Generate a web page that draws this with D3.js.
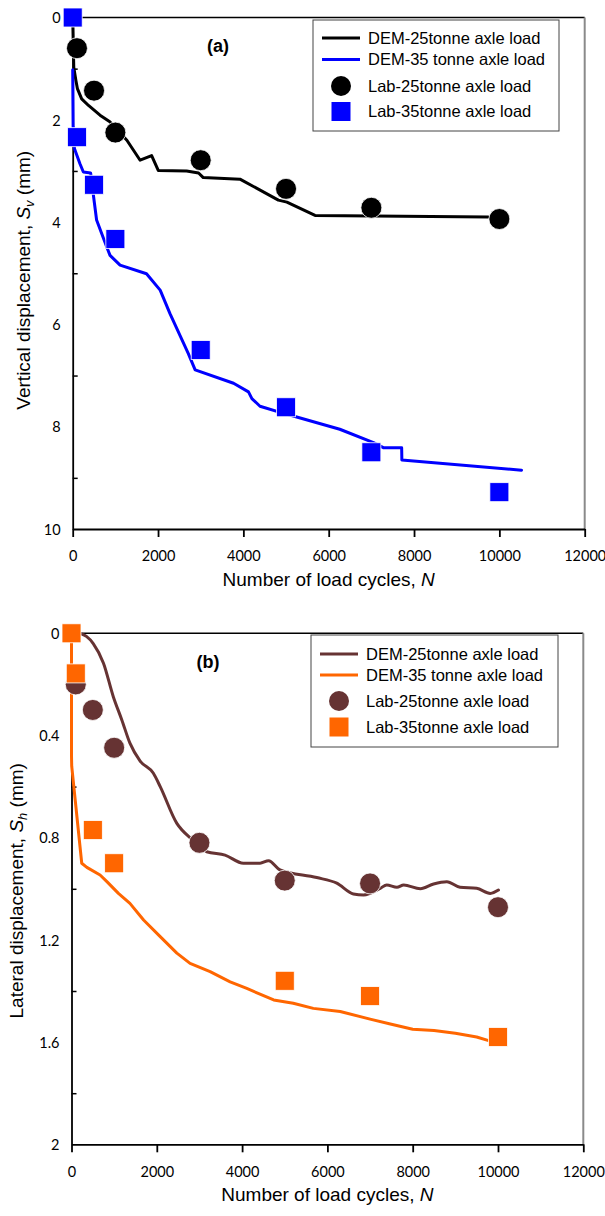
<!DOCTYPE html>
<html>
<head>
<meta charset="utf-8">
<script src="https://cdn.jsdelivr.net/npm/d3@7"></script>
<style>
  html, body { margin: 0; padding: 0; background: #fff; }
  svg { display: block; }
  .tick text { font-family: Lato, "Open Sans", sans-serif; font-size: 14.5px; fill: #000; }
  .title { font-family: "Liberation Sans", Arial, sans-serif; font-size: 19px; fill: #000; }
  .legend text { font-family: "Liberation Sans", Arial, sans-serif; font-size: 16.5px; fill: #000; }
</style>
</head>
<body>
<svg id="chart" width="605" height="1216"></svg>
<script>
// Axis ticks
const cycleTicks = [0, 2000, 4000, 6000, 8000, 10000, 12000];
const vertTicks = [0, 2, 4, 6, 8, 10];
const vertMinor = [1, 3, 5, 7, 9];
const latTicks = [0, 0.4, 0.8, 1.2, 1.6, 2];
const latMinor = [0.2, 0.6, 1.0, 1.4, 1.8];

// (a) Vertical displacement — laboratory results
const labVertCycles25 = [100, 500, 1000, 3000, 5000, 7000, 10000];
const labVert25 = [0.6, 1.43, 2.25, 2.79, 3.35, 3.72, 3.94];
const labVertCycles35 = [0, 100, 500, 1000, 3000, 5000, 7000, 10000];
const labVert35 = [0, 2.34, 3.27, 4.33, 6.5, 7.62, 8.5, 9.28];

// (a) Vertical displacement — DEM results
const demVertCycles25 = [0, 25, 75, 110, 210, 370, 640, 870, 1270, 1580, 1850, 2005, 2670, 2950, 3060, 3920, 4820, 5020, 5680, 7050, 9740];
const demVert25 = [0, 0.97, 1.23, 1.39, 1.59, 1.72, 1.91, 2.04, 2.40, 2.79, 2.70, 2.99, 3.00, 3.04, 3.13, 3.16, 3.57, 3.61, 3.87, 3.88, 3.90];
const demVertCycles35 = [0, 10, 40, 170, 250, 420, 480, 560, 800, 875, 1110, 1730, 2050, 2280, 2710, 2870, 3770, 4120, 4200, 4390, 4940, 5250, 6260, 7050, 7280, 7710, 7715, 10520];
const demVert35 = [1.02, 2.14, 2.56, 2.86, 3.02, 3.04, 3.44, 3.96, 4.49, 4.65, 4.84, 5.01, 5.33, 5.79, 6.57, 6.89, 7.15, 7.32, 7.45, 7.60, 7.74, 7.81, 8.05, 8.31, 8.41, 8.41, 8.65, 8.85];

// (b) Lateral displacement — laboratory results
const labLatCycles25 = [100, 500, 1000, 3000, 5000, 7000, 10000];
const labLat25 = [0.2, 0.30, 0.448, 0.82, 0.968, 0.979, 1.072];
const labLatCycles35 = [0, 100, 500, 1000, 5000, 7000, 10000];
const labLat35 = [0, 0.157, 0.77, 0.90, 1.36, 1.42, 1.58];

// (b) Lateral displacement — DEM results
const demLatCycles25 = [200, 350, 510, 750, 980, 1180, 1370, 1610, 1920, 2080, 2470, 2780, 3020, 3170, 3600, 4030, 4420, 4620, 4890, 5750, 6220, 6610, 6850, 7240, 7390, 7630, 7790, 8180, 8490, 8800, 9110, 9500, 9820, 10010];
const demLat25 = [0, 0.012, 0.04, 0.117, 0.248, 0.339, 0.43, 0.50, 0.548, 0.60, 0.744, 0.80, 0.83, 0.855, 0.868, 0.90, 0.90, 0.89, 0.926, 0.956, 0.978, 1.02, 1.024, 0.998, 0.985, 0.994, 0.985, 1.0, 0.981, 0.972, 0.994, 0.998, 1.018, 1.005];
const demLatCycles35 = [0, 0, 5, 240, 360, 670, 830, 1100, 1370, 1690, 2080, 2470, 2780, 3250, 3720, 4110, 4740, 5200, 5670, 6300, 7000, 7500, 8000, 8500, 9000, 9500, 9800, 10000];
const demLat35 = [0.02, 0.48, 0.52, 0.90, 0.916, 0.946, 0.972, 1.018, 1.057, 1.122, 1.187, 1.252, 1.292, 1.324, 1.364, 1.39, 1.435, 1.448, 1.468, 1.48, 1.51, 1.53, 1.55, 1.555, 1.565, 1.58, 1.595, 1.60];

const legendLabels = ["DEM-25tonne axle load", "DEM-35 tonne axle load", "Lab-25tonne axle load", "Lab-35tonne axle load"];

const zip = (xs, ys) => xs.map((x, i) => [x, ys[i]]);

const svg = d3.select("#chart");

const panels = [
  {
    tag: "(a)", tagX: 218,
    left: 72.7, right: 584.7, top: 17.5, bottom: 529,
    yMax: 10, yTicks: vertTicks, yMinor: vertMinor, yFmt: d3.format("d"),
    yTitle: ["Vertical displacement, ", "S", "v", " (mm)"], yTitleX: 23, yTitleShift: 7,
    colors: ["#000000", "#0000ff", "#000000", "#0000ff"],
    lines: [zip(demVertCycles25, demVert25), zip(demVertCycles35, demVert35)],
    curves: [d3.curveLinear, d3.curveLinear],
    circles: zip(labVertCycles25, labVert25),
    squares: zip(labVertCycles35, labVert35),
    legend: { x: 313, y: 20, w: 246, h: 111, rows: [38, 59.5, 86, 111.5] }
  },
  {
    tag: "(b)", tagX: 208,
    left: 71.5, right: 583.3, top: 633.3, bottom: 1144.3,
    yMax: 2, yTicks: latTicks, yMinor: latMinor, yFmt: d => d === 0 || d === 2 ? String(d) : d3.format(".1f")(d),
    yTitle: ["Lateral displacement, ", "S", "h", " (mm)"], yTitleX: 16, yTitleShift: 2,
    colors: ["#663333", "#ff6600", "#663333", "#ff6600"],
    lines: [zip(demLatCycles25, demLat25), zip(demLatCycles35, demLat35)],
    curves: [d3.curveMonotoneX, d3.curveLinear],
    circles: zip(labLatCycles25, labLat25),
    squares: zip(labLatCycles35, labLat35),
    legend: { x: 311, y: 635, w: 247, h: 112, rows: [654, 675, 701, 727] }
  }
];

panels.forEach(p => {
  const x = d3.scaleLinear().domain([0, 12000]).range([p.left, p.right]);
  const y = d3.scaleLinear().domain([0, p.yMax]).range([p.top, p.bottom]);
  const g = svg.append("g");

  // frame: black top edge, grey right edge
  g.append("line").attr("x1", p.left).attr("x2", p.right).attr("y1", p.top).attr("y2", p.top)
    .attr("stroke", "#000").attr("stroke-width", 1.6);
  g.append("line").attr("x1", p.right).attr("x2", p.right).attr("y1", p.top).attr("y2", p.bottom)
    .attr("stroke", "#8a8a8a").attr("stroke-width", 2);

  // x axis
  const xAxis = g.append("g").attr("transform", `translate(0,${p.bottom})`)
    .call(d3.axisBottom(x).tickValues(cycleTicks).tickFormat(d3.format("d"))
      .tickSize(8).tickSizeOuter(0).tickPadding(14));
  xAxis.selectAll("path, line").attr("stroke", "#000").attr("stroke-width", 1.8);

  // y axis: labels only on major values, inward minor ticks
  const yAxis = g.append("g").attr("transform", `translate(${p.left},0)`)
    .call(d3.axisLeft(y).tickValues(p.yTicks).tickFormat(p.yFmt)
      .tickSize(0).tickSizeOuter(0).tickPadding(12));
  yAxis.select(".domain").attr("stroke", "#000").attr("stroke-width", 1.8);
  yAxis.selectAll(".tick text").attr("dy", "0.36em");
  const yMinorAxis = g.append("g").attr("transform", `translate(${p.left},0)`)
    .call(d3.axisRight(y).tickValues(p.yMinor).tickFormat("").tickSize(5).tickSizeOuter(0));
  yMinorAxis.select(".domain").remove();
  yMinorAxis.selectAll("line").attr("stroke", "#000").attr("stroke-width", 1.5);

  // axis titles
  g.append("text").attr("class", "title")
    .attr("x", (p.left + p.right) / 2).attr("y", p.bottom + 50).attr("dy", "0.35em")
    .attr("text-anchor", "middle")
    .call(t => {
      t.append("tspan").text("Number of load cycles, ");
      t.append("tspan").attr("font-style", "italic").text("N");
    });

  g.append("text").attr("class", "title")
    .attr("transform", `translate(${p.yTitleX},${(p.top + p.bottom) / 2 + p.yTitleShift}) rotate(-90)`)
    .attr("text-anchor", "middle").attr("dy", "0.35em")
    .call(t => {
      t.append("tspan").text(p.yTitle[0]);
      t.append("tspan").attr("font-style", "italic").text(p.yTitle[1]);
      t.append("tspan").attr("font-style", "italic").attr("font-size", "0.68em").attr("dy", "0.3em").text(p.yTitle[2]);
      t.append("tspan").attr("dy", "-0.2em").text(p.yTitle[3]);
    });

  // panel tag
  g.append("text").attr("x", p.tagX).attr("y", p.top + 28).attr("dy", "0.35em")
    .attr("text-anchor", "middle")
    .attr("font-family", "'Liberation Sans', Arial, sans-serif").attr("font-weight", "bold").attr("font-size", 18)
    .text(p.tag);

  // DEM curves
  p.lines.forEach((pts, i) => {
    g.append("path").datum(pts)
      .attr("fill", "none").attr("stroke", p.colors[i]).attr("stroke-width", 3)
      .attr("stroke-linejoin", "round").attr("stroke-linecap", "round")
      .attr("d", d3.line().x(d => x(d[0])).y(d => y(d[1])).curve(p.curves[i]));
  });

  // laboratory measurements
  g.selectAll(null).data(p.circles).join("circle")
    .attr("cx", d => x(d[0])).attr("cy", d => y(d[1])).attr("r", 10.5)
    .attr("fill", p.colors[2]).attr("stroke", "#fff").attr("stroke-width", 0.8);
  const sq = 19;
  g.selectAll(null).data(p.squares).join("rect")
    .attr("x", d => x(d[0]) - sq / 2).attr("y", d => y(d[1]) - sq / 2)
    .attr("width", sq).attr("height", sq)
    .attr("fill", p.colors[3]).attr("stroke", "#fff").attr("stroke-width", 0.8);

  // legend
  const L = p.legend;
  const lg = g.append("g").attr("class", "legend");
  lg.append("rect").attr("x", L.x).attr("y", L.y).attr("width", L.w).attr("height", L.h)
    .attr("fill", "#fff").attr("stroke", "#444").attr("stroke-width", 1);
  const sx = L.x + 9, ex = L.x + 47, mx = (sx + ex) / 2, tx = L.x + 55;
  legendLabels.forEach((label, i) => {
    const cy = L.rows[i];
    if (i < 2) {
      lg.append("line").attr("x1", sx).attr("x2", ex).attr("y1", cy).attr("y2", cy)
        .attr("stroke", p.colors[i]).attr("stroke-width", 3);
    } else if (i === 2) {
      lg.append("circle").attr("cx", mx).attr("cy", cy).attr("r", 10).attr("fill", p.colors[2]);
    } else {
      lg.append("rect").attr("x", mx - 9.5).attr("y", cy - 9.5).attr("width", 19).attr("height", 19)
        .attr("fill", p.colors[3]);
    }
    lg.append("text").attr("x", tx).attr("y", cy).attr("dy", "0.35em").text(label);
  });
});
</script>
</body>
</html>
